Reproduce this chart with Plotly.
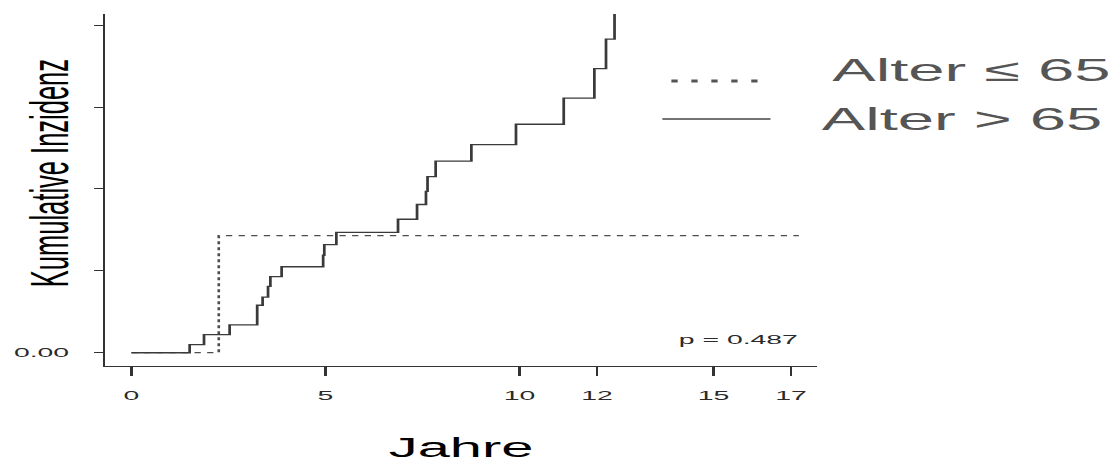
import plotly.graph_objects as go

# Cumulative incidence step curves (years since diagnosis, cumulative incidence)
years_over_65 = [0, 1.50, 1.87, 2.53, 3.24, 3.38, 3.52, 3.58, 3.87, 4.94, 4.97,
                 5.28, 6.87, 7.36, 7.59, 7.63, 7.84, 8.76, 9.91, 11.14, 11.93,
                 12.23, 12.45]
incidence_over_65 = [0, 0.010, 0.022, 0.034, 0.058, 0.068, 0.081, 0.093, 0.105,
                     0.119, 0.132, 0.147, 0.163, 0.181, 0.197, 0.215, 0.234,
                     0.254, 0.279, 0.311, 0.347, 0.383, 0.43]

years_up_to_65 = [0, 2.25, 17.2]
incidence_up_to_65 = [0, 0.1429, 0.1429]

x_tick_values = [0, 5, 10, 12, 15, 17]
x_tick_labels = ["0", "5", "10", "12", "15", "17"]
y_tick_values = [0, 0.1, 0.2, 0.3, 0.4]
y_tick_labels = ["0.00", "", "", "", ""]

legend_labels = ["Alter \u2264 65", "Alter > 65"]
p_value_label = "p = 0.487"
x_title = "Jahre"
y_title = "Kumulative Inzidenz"

# The figure is laid out narrow and widened horizontally on the page
PAGE_W, PAGE_H = 1118, 464
FIG_W = 532
STRETCH = PAGE_W / FIG_W

M_L = 50
M_R = (PAGE_W - 817) / STRETCH
M_T = 14
M_B = PAGE_H - 366
PLOT_W = FIG_W - M_L - M_R
PLOT_H = PAGE_H - M_T - M_B


def page_x(px):
    """Page pixel column -> paper x."""
    return (px / STRETCH - M_L) / PLOT_W


def page_y(py):
    """Page pixel row -> paper y."""
    return (PAGE_H - M_B - py) / PLOT_H


FONT = "Liberation Sans, Arial, Helvetica, sans-serif"
LINE_DARK = "#3a3a3a"
LINE_DASH = "#4d4d4d"
LEGEND_GREY = "#555555"

fig = go.Figure()

fig.add_trace(go.Scatter(
    x=years_up_to_65, y=incidence_up_to_65, mode="lines",
    line=dict(shape="hv", color=LINE_DASH, width=1.25, dash="3px,3px"),
    name=legend_labels[0], showlegend=False, hoverinfo="skip",
))
fig.add_trace(go.Scatter(
    x=years_over_65, y=incidence_over_65, mode="lines",
    line=dict(shape="hv", color=LINE_DARK, width=1.3),
    name=legend_labels[1], showlegend=False, hoverinfo="skip",
))

axis_common = dict(
    showgrid=False, zeroline=False, showline=True, automargin=False,
    linecolor="#333333", linewidth=1.2,
    ticks="outside", tickcolor="#333333", tickwidth=1.2,
    tickfont=dict(family=FONT, size=13.5, color="#2a2a2a"),
)

fig.update_xaxes(
    range=[-0.68, 17.68], tickmode="array",
    tickvals=x_tick_values, ticktext=x_tick_labels,
    ticklen=9, ticklabelstandoff=8, **axis_common,
)
fig.update_yaxes(
    range=[-0.0162, 0.4136], tickmode="array",
    tickvals=y_tick_values, ticktext=y_tick_labels,
    ticklen=4.3, ticklabelstandoff=9, **axis_common,
)

# Hand-made legend: line samples with their labels
fig.add_shape(type="line", xref="paper", yref="paper",
              x0=page_x(671), x1=page_x(758), y0=page_y(81), y1=page_y(81),
              line=dict(color=LEGEND_GREY, width=3, dash="3px,6.5px"))
fig.add_shape(type="line", xref="paper", yref="paper",
              x0=page_x(662), x1=page_x(770), y0=page_y(119), y1=page_y(119),
              line=dict(color="#444444", width=1.3))

annotations = [
    dict(text=legend_labels[0], x=page_x(827), y=page_y(70.5),
         xanchor="left", yanchor="middle",
         font=dict(family=FONT, size=31, color=LEGEND_GREY)),
    dict(text=legend_labels[1], x=page_x(816), y=page_y(119),
         xanchor="left", yanchor="middle",
         font=dict(family=FONT, size=31, color=LEGEND_GREY)),
    dict(text=p_value_label, x=page_x(803), y=page_y(339.5),
         xanchor="right", yanchor="middle",
         font=dict(family=FONT, size=13.5, color="#2a2a2a")),
    dict(text=x_title, x=page_x(461), y=page_y(447.4),
         xanchor="center", yanchor="middle",
         font=dict(family=FONT, size=27.5, color="#000000")),
    dict(text=y_title, x=page_x(50), y=page_y(173.4), textangle=-90,
         xanchor="center", yanchor="middle",
         font=dict(family=FONT, size=25.5, color="#000000")),
]
for a in annotations:
    a.update(xref="paper", yref="paper", showarrow=False)
fig.update_layout(annotations=annotations)

fig.update_layout(
    template="none",
    width=FIG_W, height=PAGE_H,
    margin=dict(l=M_L, r=M_R, t=M_T, b=M_B, pad=0, autoexpand=False),
    paper_bgcolor="white", plot_bgcolor="white",
    showlegend=False,
    font=dict(family=FONT),
)

widen_js = (
    "var gd = document.getElementById('{plot_id}');"
    "gd.style.transformOrigin = '0 0';"
    "gd.style.transform = 'scaleX(" + f"{STRETCH:.6f}" + ")';"
    "document.body.style.margin = '0';"
    "document.body.style.overflow = 'hidden';"
)

fig.write_html("out.html", config={"displayModeBar": False}, post_script=widen_js)
